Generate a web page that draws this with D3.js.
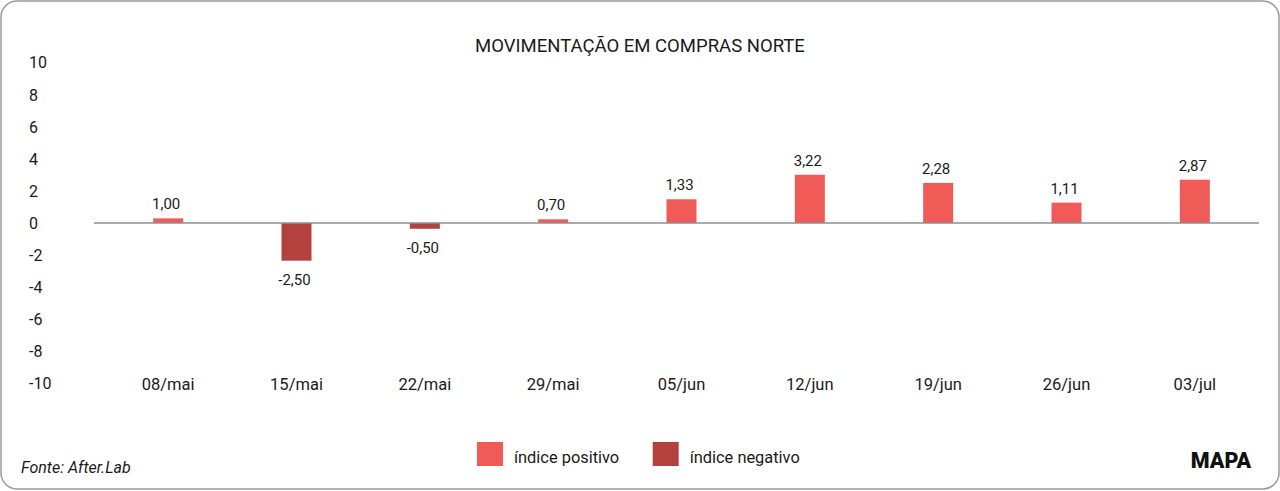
<!DOCTYPE html>
<html>
<head>
<meta charset="utf-8">
<script src="https://cdn.jsdelivr.net/npm/d3@7"></script>
<style>
  html, body { margin: 0; padding: 0; background: #fff; }
  svg { display: block; }
  text { font-family: Roboto, "Noto Sans", sans-serif; }
</style>
</head>
<body>
<svg id="chart" width="1280" height="491"></svg>
<script>
const categories = ["08/mai", "15/mai", "22/mai", "29/mai", "05/jun", "12/jun", "19/jun", "26/jun", "03/jul"];
// bar heights as drawn in the picture
const barValues = [0.29, -2.35, -0.36, 0.23, 1.48, 3.01, 2.50, 1.27, 2.70];
// value labels as printed above/below the bars
const labelValues = [1.00, -2.50, -0.50, 0.70, 1.33, 3.22, 2.28, 1.11, 2.87];
const yTicks = [-10, -8, -6, -4, -2, 0, 2, 4, 6, 8, 10];
const legendItems = ["índice positivo", "índice negativo"];
const title = "MOVIMENTAÇÃO EM COMPRAS NORTE";
const source = "Fonte: After.Lab";

const colors = { pos: "#f05b57", neg: "#b3423f" };
const W = 1280, H = 491;
const svg = d3.select("#chart");

// frame
svg.append("rect")
  .attr("x", 1).attr("y", 1).attr("width", W - 2).attr("height", H - 3)
  .attr("rx", 16).attr("ry", 16)
  .attr("fill", "#fff").attr("stroke", "#9a9a9a").attr("stroke-width", 1.5);

const x = d3.scaleBand().domain(categories).range([104, 1259]);
const y = d3.scaleLinear().domain([-10, 10]).range([383.3, 62.7]);
const barW = 30;

// title
svg.append("text")
  .attr("x", 640).attr("y", 52)
  .attr("text-anchor", "middle")
  .attr("font-size", 18.5).attr("fill", "#1a1a1a")
  .text(title);

// y tick labels
svg.append("g").selectAll("text").data(yTicks).join("text")
  .attr("x", 29).attr("y", d => y(d))
  .attr("dy", "0.36em")
  .attr("font-size", 16).attr("fill", "#1a1a1a")
  .text(d => d);

// bars
svg.append("g").selectAll("rect").data(barValues).join("rect")
  .attr("x", (d, i) => x(categories[i]) + x.bandwidth() / 2 - barW / 2)
  .attr("width", barW)
  .attr("y", d => Math.min(y(d), y(0)))
  .attr("height", d => Math.abs(y(d) - y(0)))
  .attr("fill", d => d >= 0 ? colors.pos : colors.neg);

// zero line
svg.append("line")
  .attr("x1", 94).attr("x2", 1259)
  .attr("y1", y(0)).attr("y2", y(0))
  .attr("stroke", "#8f8f8f").attr("stroke-width", 1.5);

// value labels
const fmt = v => d3.format(".2f")(v).replace(".", ",").replace("−", "-");
svg.append("g").selectAll("text").data(labelValues).join("text")
  .attr("x", (d, i) => x(categories[i]) + x.bandwidth() / 2 - 2)
  .attr("y", (d, i) => barValues[i] >= 0 ? y(barValues[i]) - 9 : y(barValues[i]) + 24)
  .attr("text-anchor", "middle")
  .attr("font-size", 15).attr("fill", "#1a1a1a")
  .text(d => fmt(d));

// category labels
svg.append("g").selectAll("text").data(categories).join("text")
  .attr("x", d => x(d) + x.bandwidth() / 2)
  .attr("y", 389.5)
  .attr("text-anchor", "middle")
  .attr("font-size", 16.5).attr("fill", "#1a1a1a")
  .text(d => d);

// legend
const legendX = [477, 652.7];
const lg = svg.append("g").selectAll("g").data(legendItems).join("g")
  .attr("transform", (d, i) => `translate(${legendX[i]},442)`);
lg.append("rect").attr("width", 26).attr("height", 24)
  .attr("fill", (d, i) => i === 0 ? colors.pos : colors.neg);
lg.append("text").attr("x", 37).attr("y", 20.5)
  .attr("font-size", 16.4).attr("fill", "#1a1a1a")
  .text(d => d);

// source
svg.append("text")
  .attr("x", 21).attr("y", 473)
  .attr("font-size", 16).attr("font-style", "italic").attr("fill", "#1a1a1a")
  .text(source);

// logo
svg.append("text")
  .attr("x", 1221).attr("y", 467.5)
  .attr("text-anchor", "middle")
  .attr("font-size", 21.5).attr("font-weight", 900).attr("fill", "#111")
  .text("MAPA");
</script>
</body>
</html>
